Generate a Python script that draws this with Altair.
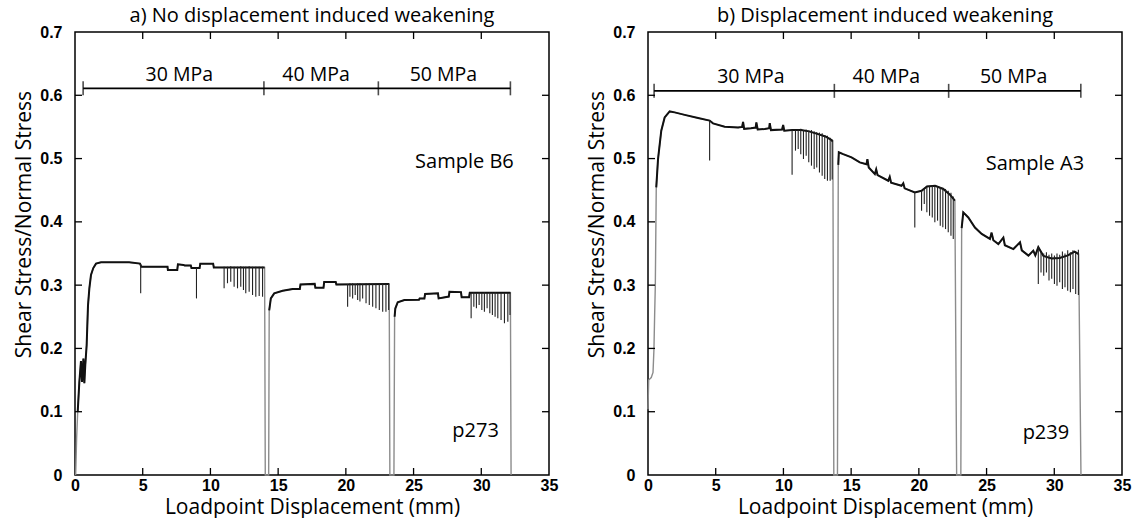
import altair as alt
import pandas as pd

# ---------------- Panel a) Sample B6 (p273) ----------------
A_X = [0.05, 0.12, 0.2, 0.32, 0.44, 0.52, 0.62, 0.69, 0.76, 0.86,
       0.96, 1.06, 1.18, 1.35, 1.55, 1.92, 4.0, 4.8, 4.9, 6.83,
       6.86, 7.55, 7.6, 8.0, 8.1, 8.55, 8.6, 9.2, 9.25, 10.2,
       10.25, 14.0, 14.05, 14.3, 14.34, 14.46, 14.71, 15.33, 16.07, 16.6,
       16.65, 17.7, 17.75, 18.35, 18.4, 19.25, 19.3, 23.2, 23.25, 23.55,
       23.6, 23.65, 23.83, 24.32, 25.4, 25.45, 25.8, 25.85, 26.8, 26.85,
       27.6, 27.65, 28.5, 28.55, 29.1, 29.15, 32.15, 32.2]
A_Y = [0.0, 0.058, 0.1, 0.147, 0.18, 0.147, 0.184, 0.145, 0.174, 0.205,
       0.268, 0.295, 0.316, 0.327, 0.334, 0.336, 0.336, 0.334, 0.329, 0.329,
       0.324, 0.324, 0.333, 0.332, 0.331, 0.331, 0.327, 0.327, 0.334, 0.334,
       0.328, 0.328, 0.0, 0.0, 0.26, 0.279, 0.287, 0.291, 0.294, 0.294,
       0.301, 0.302, 0.296, 0.296, 0.305, 0.305, 0.301, 0.302, 0.0, 0.0,
       0.25, 0.263, 0.273, 0.2765, 0.277, 0.279, 0.279, 0.286, 0.287, 0.279,
       0.282, 0.2897, 0.289, 0.281, 0.281, 0.288, 0.288, 0.0]

A_SPIKE_X = [4.85, 8.97,
             11.01, 11.26, 11.5, 11.75, 12.0, 12.24, 12.44, 12.61, 12.86, 13.11, 13.35, 13.6, 13.85,
             20.13, 20.3, 20.5, 20.69, 20.87, 21.04, 21.24, 21.49, 21.73, 21.98, 22.22, 22.47, 22.72, 22.96, 23.16,
             29.25, 29.45, 29.64, 29.84, 30.04, 30.23, 30.43, 30.63, 30.82, 31.02, 31.22, 31.46, 31.71, 31.96, 32.12]
A_SPIKE_TOP = [0.333, 0.327,
               0.329, 0.329, 0.33, 0.329, 0.329, 0.33, 0.329, 0.329, 0.33, 0.329, 0.329, 0.329, 0.329,
               0.302, 0.303, 0.303, 0.302, 0.303, 0.303, 0.302, 0.303, 0.303, 0.302, 0.303, 0.302, 0.302, 0.302, 0.302,
               0.288, 0.289, 0.288, 0.289, 0.288, 0.289, 0.288, 0.289, 0.288, 0.289, 0.288, 0.288, 0.288, 0.288, 0.288]
A_SPIKE_BOT = [0.287, 0.279,
               0.295, 0.303, 0.3055, 0.2976, 0.295, 0.2976, 0.2923, 0.287, 0.2897, 0.2844, 0.2818, 0.2828, 0.2818,
               0.266, 0.2818, 0.279, 0.2844, 0.2765, 0.274, 0.279, 0.2712, 0.2686, 0.266, 0.2633, 0.2607, 0.258, 0.258, 0.2607,
               0.2475, 0.266, 0.2633, 0.2686, 0.2607, 0.258, 0.2633, 0.2554, 0.2528, 0.2502, 0.2475, 0.2449, 0.2396, 0.2423, 0.2528]

A_BAR_Y = 0.611
A_BAR_TICKS = [0.6, 13.95, 22.4, 32.15]
A_BAR_LABEL_X = [7.7, 17.8, 27.2]
A_BAR_LABEL_Y = 0.632
BAR_LABELS = ["30 MPa", "40 MPa", "50 MPa"]
A_NOTES = ["Sample B6", "p273"]
A_NOTE_X = [32.4, 31.3]
A_NOTE_Y = [0.495, 0.07]

# ---------------- Panel b) Sample A3 (p239) ----------------
B_X = [0.0, 0.05, 0.24, 0.37, 0.44, 0.49, 0.54, 0.61, 0.74, 0.98,
       1.23, 1.6, 1.97, 2.71, 3.7, 4.55, 4.8, 5.66, 6.65, 6.95,
       7.02, 7.1, 7.6, 7.95, 8.0, 8.1, 8.62, 8.95, 8.99, 9.08,
       9.9, 9.98, 10.06, 10.64, 11.3, 11.9, 12.5, 13.1, 13.5, 13.65,
       13.72, 13.99, 14.05, 14.09, 14.41, 15.03, 15.64, 16.13, 16.2, 16.3,
       16.75, 16.85, 16.95, 17.74, 17.85, 17.95, 18.72, 18.85, 18.95, 19.7,
       20.2, 20.6, 21.2, 21.8, 22.3, 22.66, 22.79, 23.1, 23.16, 23.28,
       23.65, 24.14, 24.64, 25.25, 25.37, 25.5, 25.87, 26.24, 26.35, 26.98,
       27.47, 27.6, 28.09, 28.45, 28.6, 28.82, 29.2, 29.8, 30.4, 31.0,
       31.5, 31.8, 31.97]
B_Y = [0.104, 0.15, 0.154, 0.162, 0.199, 0.252, 0.299, 0.4545, 0.499, 0.544,
       0.565, 0.5745, 0.573, 0.569, 0.564, 0.56, 0.5556, 0.5504, 0.549, 0.55,
       0.558, 0.547, 0.548, 0.549, 0.557, 0.546, 0.5466, 0.548, 0.556, 0.545,
       0.546, 0.553, 0.544, 0.545, 0.545, 0.543, 0.539, 0.535, 0.53, 0.527,
       0.0, 0.0, 0.49, 0.51, 0.507, 0.502, 0.494, 0.491, 0.499, 0.486,
       0.4755, 0.483, 0.474, 0.465, 0.471, 0.462, 0.457, 0.461, 0.453, 0.4466,
       0.449, 0.456, 0.457, 0.452, 0.443, 0.4335, 0.0, 0.0, 0.39, 0.415,
       0.407, 0.391, 0.381, 0.373, 0.383, 0.371, 0.365, 0.375, 0.363, 0.357,
       0.3676, 0.355, 0.3466, 0.3545, 0.347, 0.36, 0.346, 0.342, 0.343, 0.347,
       0.353, 0.349, 0.0]

B_SPIKE_X = [4.55,
             10.64, 10.89, 11.09, 11.28, 11.48, 11.68, 11.87, 12.07, 12.27, 12.46, 12.66, 12.86, 13.05, 13.25, 13.45, 13.6,
             19.7, 20.2, 20.4, 20.59, 20.79, 20.99, 21.18, 21.38, 21.58, 21.77, 21.97, 22.17, 22.37, 22.54,
             28.82, 29.02, 29.22, 29.42, 29.61, 29.81, 30.01, 30.2, 30.4, 30.6, 30.79, 30.99, 31.19, 31.38, 31.58, 31.78]
B_SPIKE_TOP = [0.56,
               0.545, 0.545, 0.546, 0.547, 0.545, 0.546, 0.544, 0.545, 0.543, 0.542, 0.541, 0.54, 0.537, 0.536, 0.533, 0.53,
               0.4466, 0.449, 0.452, 0.455, 0.456, 0.457, 0.457, 0.456, 0.455, 0.454, 0.452, 0.449, 0.446, 0.44,
               0.36, 0.352, 0.35, 0.352, 0.348, 0.35, 0.347, 0.35, 0.348, 0.353, 0.35, 0.355, 0.352, 0.355, 0.351, 0.356]
B_SPIKE_BOT = [0.497,
               0.4745, 0.5125, 0.515, 0.507, 0.4993, 0.5046, 0.494, 0.4888, 0.4834, 0.486, 0.478, 0.473, 0.4677, 0.465, 0.465, 0.467,
               0.391, 0.4177, 0.4282, 0.415, 0.4098, 0.407, 0.3992, 0.4019, 0.394, 0.3913, 0.3886, 0.3834, 0.378, 0.3728,
               0.3017, 0.32, 0.3148, 0.32, 0.3074, 0.31, 0.3018, 0.2992, 0.3045, 0.294, 0.2965, 0.2913, 0.2887, 0.294, 0.2861, 0.2845]

B_BAR_Y = 0.607
B_BAR_TICKS = [0.45, 13.76, 22.2, 31.96]
B_BAR_LABEL_X = [7.6, 17.6, 27.0]
B_BAR_LABEL_Y = 0.629
B_NOTES = ["Sample A3", "p239"]
B_NOTE_X = [32.2, 31.1]
B_NOTE_Y = [0.491, 0.066]

X_TICKS = [0, 5, 10, 15, 20, 25, 30, 35]
Y_TICKS = [0, 0.1, 0.2, 0.3, 0.4, 0.5, 0.6, 0.7]
X_INNER = [5, 10, 15, 20, 25, 30]
Y_INNER = [0.1, 0.2, 0.3, 0.4, 0.5, 0.6]

W, H = 474, 443
SANS = "Open Sans"
LBL = "Liberation Sans"

X_AXIS = alt.Axis(
    values=X_TICKS, title="Loadpoint Displacement (mm)", ticks=False, tickSize=0,
    domain=False, grid=False, labelFont=LBL, labelFontWeight="bold", labelFontSize=16,
    labelColor="black", labelPadding=2, labelFlush=False, labelOverlap=False,
    titleFont=SANS, titleFontSize=21, titleFontWeight="normal", titleColor="black",
    titleY=32, titleX=W / 2, titleBaseline="middle")
Y_AXIS = alt.Axis(
    values=Y_TICKS, format=".1~f", title="Shear Stress/Normal Stress", ticks=False,
    tickSize=0, domain=False, grid=False, labelFont=LBL, labelFontWeight="bold",
    labelFontSize=16, labelColor="black", labelPadding=13, labelFlush=False,
    labelOverlap=False, titleFont=SANS, titleFontSize=21, titleFontWeight="normal",
    titleColor="black", titleX=-51, titleY=192, titleBaseline="middle")
XS = alt.Scale(domain=[0, 35], nice=False, zero=False)
YS = alt.Scale(domain=[0, 0.7], nice=False)


def X(f):
    return alt.X(f, scale=XS, axis=X_AXIS)


def Y(f):
    return alt.Y(f, scale=YS, axis=Y_AXIS)


def panel(title, cx, cy, sx, stop, sbot, bar_y, bar_ticks, blx, bly, notes, nx, ny, ink_min):
    assert len(cx) == len(cy) and len(sx) == len(stop) == len(sbot)

    curve = pd.DataFrame({"x": cx, "y": cy, "i": list(range(len(cx)))})
    curve["seg"] = (curve["y"] == 0).cumsum()
    # unloading / reloading traces (grey), then the loaded traces in black on top
    trace = alt.Chart(curve).mark_line(color="#8c8c8c", strokeWidth=1.4).encode(
        x=X("x:Q"), y=Y("y:Q"), order="i:Q")
    ink = alt.Chart(curve).transform_filter(alt.datum.y >= ink_min).mark_line(
        color="#111", strokeWidth=2.0).encode(
        x=X("x:Q"), y=Y("y:Q"), order="i:Q", detail="seg:N")

    spikes = alt.Chart(pd.DataFrame({"x": sx, "t": stop, "b": sbot})).mark_rule(
        color="#222", strokeWidth=1.1).encode(x=X("x:Q"), y=Y("t:Q"), y2="b:Q")

    xt = pd.DataFrame({"v": X_INNER})
    yt = pd.DataFrame({"v": Y_INNER})
    tick_b = alt.Chart(xt).mark_rule(color="black", strokeWidth=1.3).encode(
        x=X("v:Q"), y=alt.value(H), y2=alt.value(H - 7))
    tick_t = alt.Chart(xt).mark_rule(color="black", strokeWidth=1.3).encode(
        x=X("v:Q"), y=alt.value(0), y2=alt.value(7))
    tick_l = alt.Chart(yt).mark_rule(color="black", strokeWidth=1.3).encode(
        y=Y("v:Q"), x=alt.value(0), x2=alt.value(7))
    tick_r = alt.Chart(yt).mark_rule(color="black", strokeWidth=1.3).encode(
        y=Y("v:Q"), x=alt.value(W - 7), x2=alt.value(W))

    bar = alt.Chart(pd.DataFrame({"x0": [bar_ticks[0]], "x1": [bar_ticks[-1]], "y": [bar_y]})).mark_rule(
        color="black", strokeWidth=1.8).encode(x=X("x0:Q"), x2="x1:Q", y=Y("y:Q"))
    bar_t = alt.Chart(pd.DataFrame({"x": bar_ticks, "y": [bar_y] * len(bar_ticks)})).mark_tick(
        orient="vertical", color="black", size=14, thickness=1.6).encode(x=X("x:Q"), y=Y("y:Q"))
    bar_lbl = alt.Chart(pd.DataFrame({"x": blx, "y": [bly] * len(blx), "t": BAR_LABELS})).mark_text(
        font=SANS, fontSize=19.5, color="black", align="center", baseline="middle").encode(
        x=X("x:Q"), y=Y("y:Q"), text="t:N")
    note = alt.Chart(pd.DataFrame({"x": nx, "y": ny, "t": notes})).mark_text(
        font=SANS, fontSize=20, color="black", align="right", baseline="middle").encode(
        x=X("x:Q"), y=Y("y:Q"), text="t:N")

    return alt.layer(trace, ink, spikes, tick_b, tick_t, tick_l, tick_r, bar, bar_t, bar_lbl, note).properties(
        width=W, height=H,
        title=alt.TitleParams(text=title, font=SANS, fontSize=20, fontWeight="normal",
                              color="black", anchor="middle", offset=-2))


left = panel("a) No displacement induced weakening", A_X, A_Y, A_SPIKE_X, A_SPIKE_TOP, A_SPIKE_BOT,
             A_BAR_Y, A_BAR_TICKS, A_BAR_LABEL_X, A_BAR_LABEL_Y, A_NOTES, A_NOTE_X, A_NOTE_Y, 0.1)
right = panel("b) Displacement induced weakening", B_X, B_Y, B_SPIKE_X, B_SPIKE_TOP, B_SPIKE_BOT,
              B_BAR_Y, B_BAR_TICKS, B_BAR_LABEL_X, B_BAR_LABEL_Y, B_NOTES, B_NOTE_X, B_NOTE_Y, 0.3)

chart = alt.hconcat(left, right, spacing=99, bounds="flush").configure_view(
    stroke="black", strokeWidth=1.5).properties(
    padding={"left": 12, "top": 5, "right": 0, "bottom": 0}, background="white")

chart.save("out.html", embed_options={"renderer": "svg", "actions": False})
